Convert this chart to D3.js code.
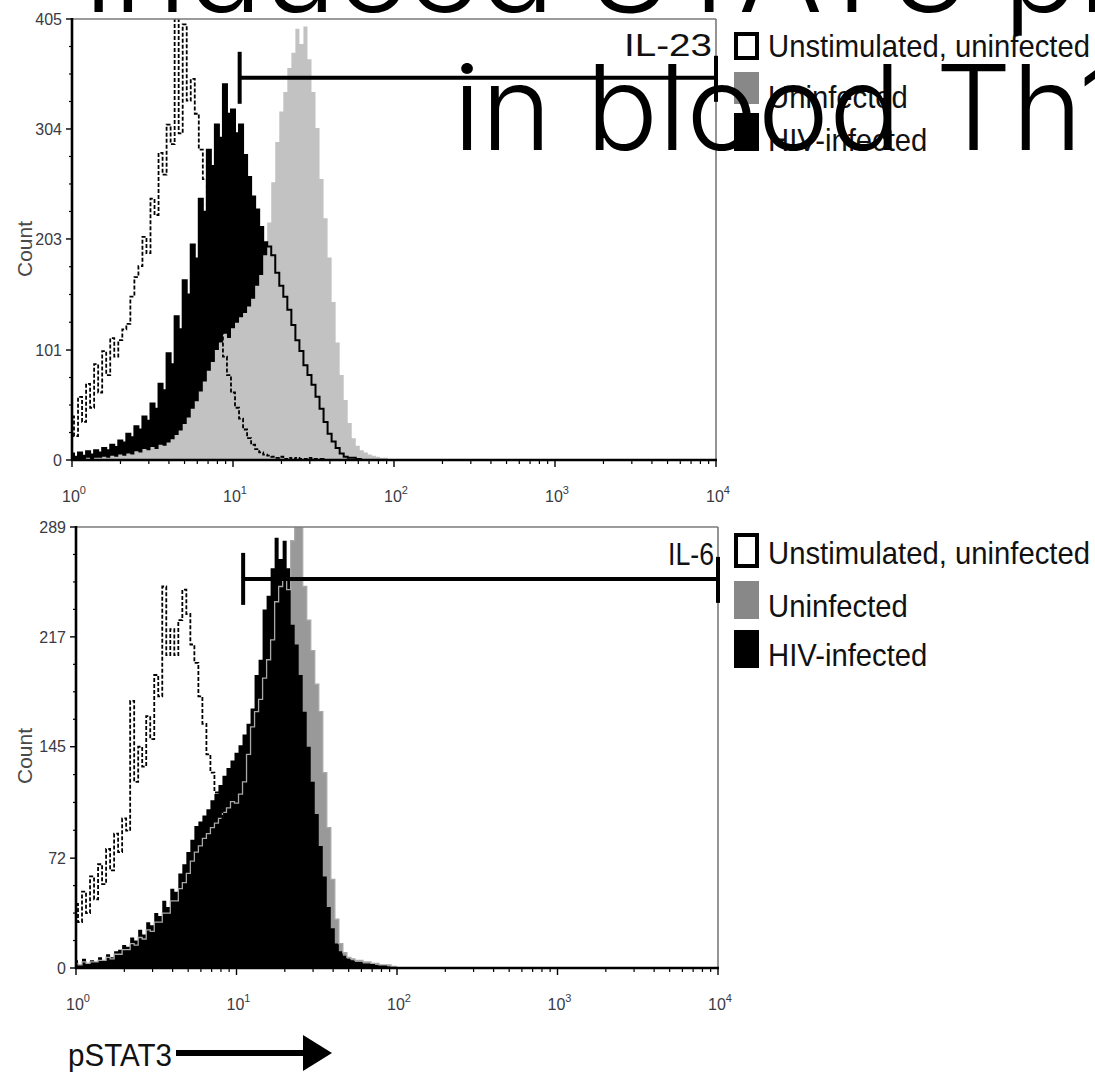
<!DOCTYPE html>
<html>
<head>
<meta charset="utf-8">
<script src="https://cdn.jsdelivr.net/npm/d3@7"></script>
<style>
  body { margin: 0; background: #fff; overflow: hidden; }
  svg { display: block; }
</style>
</head>
<body>
<svg id="chart" width="1095" height="1072"></svg>
<script>
// Histogram channels: each value is the event count of one channel,
// channels are STEP decades wide starting at 10^0.
const STEP = 0.025;

// IL-23 stimulation
const il23Unstim = [40,22,58,35,70,48,88,62,100,78, 112,95,110,120,125,150,168,178,205,190,
  240,225,282,262,308,290,405,300,400,330, 350,318,285,258,225,190,160,125,95,78,
  62,48,38,28,20,14,10,7,5,4, 3,2,3,1,2,1,2,1,1,2, 1,1,1,0,0];
const il23Uninf = [1,0,1,1,2,1,2,2,3,2, 4,3,5,4,6,5,8,7,10,9, 12,10,14,13,16,19,23,27,33,39,
  47,54,63,72,82,90,101,108,116,112, 121,126,131,135,141,148,160,170,188,218,
  255,292,320,338,360,374,396,382,398,368, 338,305,258,222,186,145,108,78,55,34,
  20,13,9,7,5,4,3,2,2,1, 1];
const il23Hiv = [6,3,7,4,8,5,9,7,11,9, 14,12,18,16,24,21,31,28,40,36, 52,47,70,64,98,88,132,120,165,152,
  198,185,240,228,285,270,308,296,345,318, 322,300,308,280,260,242,230,214,200,196,
  188,172,160,150,138,124,110,100,87,78, 69,58,47,35,24,17,11,6,3,2, 2,1,1];

// IL-6 stimulation
const il6Unstim = [42,30,50,36,60,45,68,55,78,64, 88,76,98,90,175,122,145,132,165,150,
  192,178,250,205,222,205,228,248,232,212, 200,178,160,140,128,115,105,92,80,65,
  50,38,28,20,12,8,5,3,2,1, 1,0,0];
const il6Uninf = [3,2,4,3,4,4,5,5,7,6, 9,9,12,12,16,15,20,19,25,24, 30,30,36,36,44,44,52,56,62,70,
  76,80,85,88,92,95,98,102,105,109, 108,114,122,140,158,168,176,190,202,215,
  240,250,254,248,280,289,289,250,228,208, 186,168,128,92,58,32,16,10,7,6,
  5,5,4,4,3,3,2,2,2,1, 1];
const il6Hiv = [5,2,6,3,5,4,7,5,9,7, 11,12,15,14,20,18,25,22,30,28, 36,34,44,40,52,50,62,68,76,84,
  93,96,100,104,110,114,120,126,131,136, 141,146,153,160,170,192,202,235,244,262,
  282,268,280,262,225,212,192,168,145,122, 101,80,60,40,26,16,11,8,6,5,
  4,4,3,3,3,2,2,2,1,1, 1];

const il23Ticks = [0, 101, 203, 304, 405];
const il6Ticks = [0, 72, 145, 217, 289];
const decades = [0, 1, 2, 3, 4];
const legendLabels = ["Unstimulated, uninfected", "Uninfected", "HIV-infected"];
const gateRange = [11, 10000];
const titleLines = ["induced STAT3 ph", "in blood Th1"];

const svg = d3.select("#chart");
const narrow = "'Liberation Sans Narrow', 'Liberation Sans', Arial, sans-serif";
const plain = "'Liberation Sans', Arial, sans-serif";

const toChannels = counts => counts.map((c, i) => ({ v: Math.pow(10, i * STEP), c }));

const panels = [
  { key: "il23", label: "IL-23", labelW: 88, x0: 72, x1: 716, yTop: 19, yBase: 460, max: 405,
    ticks: il23Ticks, unstim: il23Unstim, uninf: il23Uninf, hiv: il23Hiv,
    gray: "#c2c2c2", hivOnTop: false, gateCount: 351,
    labelBase: 56, boxes: [[32, 28], [72, 32], [113, 38]], textBase: [57, 108, 151],
    countY: 249, tickLabelY: 502 },
  { key: "il6", label: "IL-6", labelW: 46, x0: 76, x1: 718, yTop: 527, yBase: 968, max: 289,
    ticks: il6Ticks, unstim: il6Unstim, uninf: il6Uninf, hiv: il6Hiv,
    gray: "#999999", hivOnTop: true, gateCount: 255,
    labelBase: 565, boxes: [[533, 35], [581, 38], [630, 38]], textBase: [564, 617, 666],
    countY: 756, tickLabelY: 1010 }
];

panels.forEach(p => {
  const x = d3.scaleLog().domain([1, 1e4]).range([p.x0, p.x1]);
  const y = d3.scaleLinear().domain([0, p.max]).range([p.yBase, p.yTop]);
  const g = svg.append("g");

  g.append("clipPath").attr("id", "clip-" + p.key)
    .append("rect").attr("x", p.x0).attr("y", p.yTop)
    .attr("width", p.x1 - p.x0).attr("height", p.yBase - p.yTop);

  const plot = g.append("g").attr("clip-path", `url(#clip-${p.key})`);
  const area = d3.area().curve(d3.curveStep)
    .x(d => x(d.v)).y0(y(0)).y1(d => y(Math.min(d.c, p.max)));
  const line = d3.line().curve(d3.curveStep)
    .x(d => x(d.v)).y(d => y(Math.min(d.c, p.max)));

  const hiv = toChannels(p.hiv), uninf = toChannels(p.uninf), unstim = toChannels(p.unstim);

  if (p.hivOnTop) {
    plot.append("path").datum(uninf).attr("d", area).attr("fill", p.gray);
    plot.append("path").datum(hiv).attr("d", area).attr("fill", "#000");
    plot.append("path").datum(uninf).attr("d", line).attr("fill", "none")
      .attr("stroke", "#a8a8a8").attr("stroke-width", 1.3);
  } else {
    plot.append("path").datum(hiv).attr("d", area).attr("fill", "#000");
    plot.append("path").datum(uninf).attr("d", area).attr("fill", p.gray);
    plot.append("path").datum(hiv).attr("d", line).attr("fill", "none")
      .attr("stroke", "#000").attr("stroke-width", 2);
  }
  plot.append("path").datum(unstim).attr("d", line).attr("fill", "none")
    .attr("stroke", "#000").attr("stroke-width", 1.8).attr("stroke-dasharray", "4,2");

  // frame: thin grey top and right edges, heavy black axes
  g.append("line").attr("x1", p.x0).attr("x2", p.x1).attr("y1", p.yTop).attr("y2", p.yTop)
    .attr("stroke", "#7a7a7a").attr("stroke-width", 1.6);
  g.append("line").attr("x1", p.x1).attr("x2", p.x1).attr("y1", p.yTop).attr("y2", p.yBase)
    .attr("stroke", "#7a7a7a").attr("stroke-width", 1.6);

  // y axis with minor ticks between labelled counts
  const minorY = [];
  for (let i = 0; i < p.ticks.length - 1; i++) {
    for (let k = 1; k < 4; k++) minorY.push(p.ticks[i] + (p.ticks[i + 1] - p.ticks[i]) * k / 4);
  }
  const yAxis = g.append("g").attr("transform", `translate(${p.x0},0)`);
  yAxis.selectAll(".minor").data(minorY).join("line")
    .attr("x1", -3).attr("x2", 0).attr("y1", d => y(d)).attr("y2", d => y(d))
    .attr("stroke", "#000").attr("stroke-width", 1.2);
  yAxis.selectAll(".major").data(p.ticks).join("line")
    .attr("x1", -6).attr("x2", 0).attr("y1", d => y(d)).attr("y2", d => y(d))
    .attr("stroke", "#000").attr("stroke-width", 1.4);
  yAxis.selectAll("text").data(p.ticks).join("text")
    .attr("x", -10).attr("y", d => y(d)).attr("dy", "0.36em")
    .attr("text-anchor", "end").attr("font-family", plain).attr("font-size", 16)
    .attr("fill", "#3a3a44").text(d => d);
  yAxis.append("line").attr("x1", 0).attr("x2", 0).attr("y1", p.yTop - 1).attr("y2", p.yBase + 1)
    .attr("stroke", "#000").attr("stroke-width", 2.6);

  // log x axis
  const xAxis = g.append("g").attr("transform", `translate(0,${p.yBase})`);
  const minorX = [];
  for (let e = 0; e < 4; e++) for (let m = 2; m < 10; m++) minorX.push(m * Math.pow(10, e));
  xAxis.selectAll(".minor").data(minorX).join("line")
    .attr("x1", d => x(d)).attr("x2", d => x(d)).attr("y1", 0).attr("y2", 4)
    .attr("stroke", "#000").attr("stroke-width", 1.2);
  xAxis.selectAll(".major").data(decades).join("line")
    .attr("x1", d => x(Math.pow(10, d))).attr("x2", d => x(Math.pow(10, d)))
    .attr("y1", 0).attr("y2", 7).attr("stroke", "#000").attr("stroke-width", 1.4);
  xAxis.append("line").attr("x1", p.x0 - 1).attr("x2", p.x1 + 1).attr("y1", 0).attr("y2", 0)
    .attr("stroke", "#000").attr("stroke-width", 2.6);
  const lbl = g.selectAll(".xl").data(decades).join("text")
    .attr("x", d => x(Math.pow(10, d)) + 2).attr("y", p.tickLabelY)
    .attr("text-anchor", "middle").attr("font-family", plain).attr("font-size", 16)
    .attr("fill", "#3a3a44");
  lbl.append("tspan").text("10");
  lbl.append("tspan").attr("font-size", 11).attr("dy", -8).text(d => d);

  // Count label
  g.append("text").attr("transform", `translate(32,${p.countY}) rotate(-90)`)
    .attr("text-anchor", "middle").attr("font-family", plain).attr("font-size", 21)
    .attr("fill", "#4a4a4a").text("Count");

  // positive gate
  const gy = y(p.gateCount);
  const gate = g.append("g").attr("stroke", "#000").attr("stroke-width", 4);
  gate.append("line").attr("x1", x(gateRange[0])).attr("x2", x(gateRange[1])).attr("y1", gy).attr("y2", gy);
  gate.append("line").attr("x1", x(gateRange[0])).attr("x2", x(gateRange[0])).attr("y1", gy - 26).attr("y2", gy + 26);
  gate.append("line").attr("x1", x(gateRange[1])).attr("x2", x(gateRange[1])).attr("y1", gy - 22).attr("y2", gy + 24);

  // stimulus name
  g.append("text").attr("x", p.x1 - 4).attr("y", p.labelBase).attr("text-anchor", "end")
    .attr("font-family", narrow).attr("font-size", 32).attr("fill", "#111")
    .attr("textLength", p.labelW).attr("lengthAdjust", "spacingAndGlyphs").text(p.label);

  // legend
  const fills = ["#fff", "#888", "#000"];
  p.boxes.forEach((b, i) => {
    if (i === 0) {
      g.append("rect").attr("x", 736).attr("y", b[0] + 2).attr("width", 21).attr("height", b[1] - 4)
        .attr("fill", "#fff").attr("stroke", "#000").attr("stroke-width", 4);
    } else {
      g.append("rect").attr("x", 734).attr("y", b[0]).attr("width", 25).attr("height", b[1])
        .attr("fill", fills[i]);
    }
  });
  const lt = g.selectAll(".lg").data(legendLabels).join("text")
    .attr("x", 768).attr("y", (d, i) => p.textBase[i])
    .attr("font-family", narrow).attr("font-size", 32).attr("fill", "#111").text(d => d);
  const fullW = lt.nodes()[0].getComputedTextLength();
  const sx = 322 / fullW;
  lt.each(function () {
    const t = d3.select(this);
    t.attr("textLength", this.getComputedTextLength() * sx).attr("lengthAdjust", "spacingAndGlyphs");
  });
});

// axis caption with arrow
const cap = svg.append("text").attr("x", 68).attr("y", 1066).attr("font-family", narrow)
  .attr("font-size", 32).attr("fill", "#111").text("pSTAT3");
cap.attr("textLength", 104).attr("lengthAdjust", "spacingAndGlyphs");
svg.append("line").attr("x1", 176).attr("x2", 306).attr("y1", 1053).attr("y2", 1053)
  .attr("stroke", "#000").attr("stroke-width", 6);
svg.append("path").attr("d", "M303,1035 L332,1053 L303,1071 Z").attr("fill", "#000");

// large heading running across the top
const head = svg.append("g").attr("font-family", "Inter, 'DejaVu Sans', sans-serif")
  .attr("font-weight", 300).attr("font-size", 118).attr("fill", "#000");
const h2 = head.append("text").text(titleLines[1]);
const h1 = head.append("text").text(titleLines[0]);
const hs2 = 625 / h2.node().getSubStringLength(0, 11);
const hs1 = 919 / h1.node().getSubStringLength(0, 14);
h2.attr("transform", `translate(453,150) scale(${hs2},1)`);
h1.attr("transform", `translate(84,12) scale(${hs1},1)`);
</script>
</body>
</html>
